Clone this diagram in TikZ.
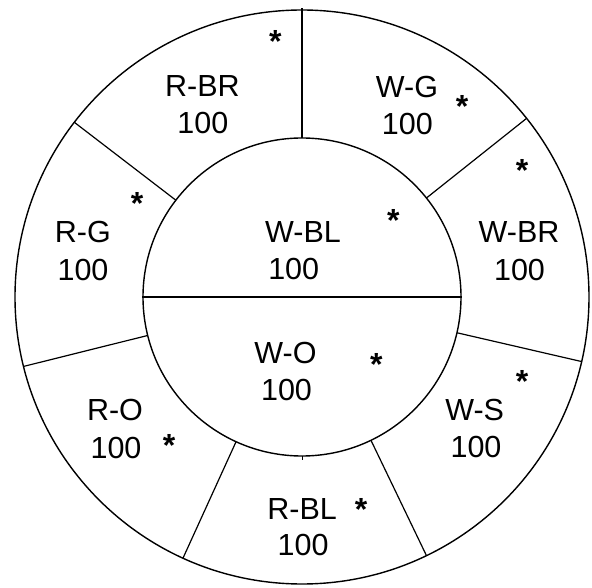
\documentclass[tikz,border=0pt]{standalone}
\usepackage{fontspec}
\setmainfont{Liberation Sans}
\usetikzlibrary{calc}
\begin{document}
\begin{tikzpicture}[x=1pt,y=1pt,
  lbl/.style={inner sep=0pt,anchor=base,font=\fontsize{30.5}{35}\selectfont},
  star/.style={inner sep=0pt,anchor=north,font=\fontsize{32}{36}\selectfont\bfseries},
  ring/.style={line width=1.4pt},
  spoke/.style={line width=1.2pt}]
\useasboundingbox (0,0) rectangle (592,587);
\coordinate (c) at (302,290);
\draw[ring] (c) circle (287);
\draw[ring] (c) circle (159);
% spokes
\foreach \a/\n in {90/s1,142.5/s2,38.5/s3,-13/s4,194/s5,245.5/s6,-64.3/s7}{
  \coordinate (\n i) at ($(c)+(\a:159)$);
  \coordinate (\n o) at ($(c)+(\a:287)$);
  \draw[spoke] (\n i) -- (\n o);
}
\coordinate (top) at ($(c)+(90:289)$);
\draw[spoke] (s1o) -- (top);
\coordinate (hl) at ($(c)+(-160,0)$);
\coordinate (hr) at ($(c)+(160,0)$);
\draw[spoke] (hl) -- (hr);
\coordinate (bt1) at ($(c)+(0,-159)$);
\coordinate (bt2) at ($(c)+(0,-163)$);
\draw[line width=0.8pt] (bt1) -- (bt2);
% labels
\node[lbl] (rbr) at (202.5,490.5) {R-BR};
\node[lbl] (rbrn) at (202.9,453) {100};
\node[lbl] (wg) at (407,489) {W-G};
\node[lbl] (wgn) at (407.3,452) {100};
\node[lbl] (rg) at (82.8,344) {R-G};
\node[lbl] (rgn) at (83,306.2) {100};
\node[lbl] (wbl) at (303,344) {W-BL};
\node[lbl] (wbln) at (293.7,307.4) {100};
\node[lbl] (wbr) at (519,344) {W-BR};
\node[lbl] (wbrn) at (519.5,306.2) {100};
\node[lbl] (wo) at (285.5,223) {W-O};
\node[lbl] (won) at (286.5,186.3) {100};
\node[lbl] (ro) at (115,166.3) {R-O};
\node[lbl] (ron) at (116,128.5) {100};
\node[lbl] (ws) at (474.7,166.3) {W-S};
\node[lbl] (wsn) at (476,129.2) {100};
\node[lbl] (rbl) at (302.2,68) {R-BL};
\node[lbl] (rbln) at (303.1,32) {100};
% asterisks
\node[star] (a1) at (275.3,557.2) {*};
\node[star] (a2) at (462.2,492.1) {*};
\node[star] (a3) at (522,427.8) {*};
\node[star] (a4) at (137,394.9) {*};
\node[star] (a5) at (393.3,377.9) {*};
\node[star] (a6) at (376.3,233.5) {*};
\node[star] (a7) at (522,217.2) {*};
\node[star] (a8) at (169,152.9) {*};
\node[star] (a9) at (361.2,88.5) {*};
\end{tikzpicture}
\end{document}
